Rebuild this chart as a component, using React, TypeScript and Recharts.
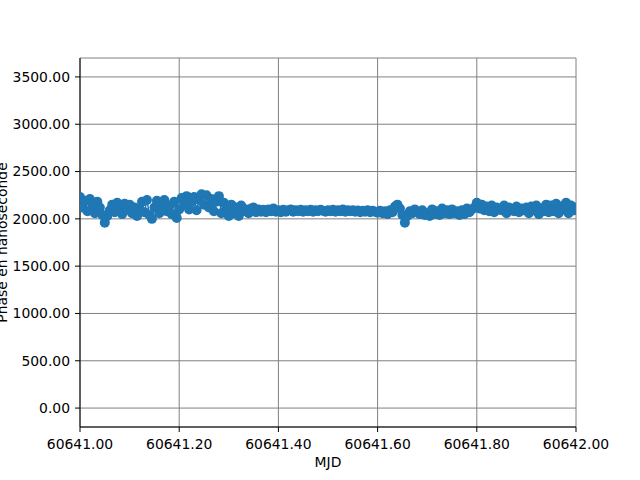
import React from 'react';
import { LineChart, Line, XAxis, YAxis, CartesianGrid } from 'recharts';

// MJD sampling of the series (start of the day, interval in days)
const MJD_START = 60641;
const MJD_STEP = 0.005;

// phase values in nanoseconds
const phaseNs = [
  2230, 2120, 2190, 2080, 2210, 2150, 2060, 2180, 2120, 2040,
  1960, 2030, 2090, 2150, 2070, 2170, 2110, 2050, 2160, 2100,
  2150, 2060, 2120, 2030, 2100, 2180, 2070, 2200, 2040, 2000,
  2120, 2190, 2060, 2150, 2200, 2080, 2140, 2050, 2180, 2010,
  2100, 2220, 2150, 2240, 2100, 2180, 2230, 2090, 2200, 2260,
  2150, 2250, 2120, 2210, 2080, 2180, 2240, 2060, 2170, 2110,
  2030, 2150, 2060, 2120, 2030, 2140, 2080, 2100, 2060, 2110,
  2120, 2070, 2100, 2075, 2095, 2070, 2100, 2080, 2110, 2075,
  2090, 2070, 2095, 2075, 2090, 2100, 2075, 2090, 2080, 2095,
  2075, 2090, 2080, 2095, 2075, 2090, 2080, 2095, 2085, 2075,
  2090, 2080, 2095, 2075, 2090, 2080, 2098, 2075, 2090, 2080,
  2090, 2075, 2088, 2070, 2085, 2075, 2090, 2070, 2085, 2075,
  2065, 2085, 2060, 2080, 2050, 2090, 2070, 2130, 2150, 2110,
  2040, 1960, 2030, 2080, 2060, 2100, 2070, 2050, 2090, 2040,
  2060, 2030, 2100, 2050, 2080, 2040, 2110, 2060, 2090, 2050,
  2100, 2060, 2080, 2040, 2090, 2050, 2110, 2070, 2100, 2120,
  2170, 2110, 2150, 2090, 2130, 2080, 2140, 2070, 2120, 2100,
  2090, 2140, 2060, 2120, 2100, 2080, 2130, 2070, 2110, 2090,
  2120, 2060, 2130, 2090, 2140, 2050, 2110, 2080, 2150, 2070,
  2140, 2080, 2160, 2060, 2130, 2100, 2170, 2060, 2140, 2090,
  2120,
];

const xTicks = [60641, 60641.2, 60641.4, 60641.6, 60641.8, 60642];
const yTicks = [0, 500, 1000, 1500, 2000, 2500, 3000, 3500];

const data = phaseNs.map((v, i) => ({ mjd: MJD_START + i * MJD_STEP, phase: v }));

const FONT = 'DejaVu Sans';
const tickStyle = { fill: '#000', fontSize: 13.9, fontFamily: FONT };
const Y_DOMAIN: [number, number] = [-200, 3700];

const App: React.FC = () => {
  return (
    <div style={{ position: 'absolute', left: 0, top: 0, width: 640, height: 480, background: '#fff' }}>
      <LineChart width={640} height={480} data={data} margin={{ top: 58, right: 64, bottom: 0, left: 0 }}>
        <CartesianGrid stroke="#808080" strokeWidth={1} />
        <XAxis
          dataKey="mjd"
          type="number"
          domain={[60641, 60642]}
          ticks={xTicks}
          allowDataOverflow
          tickFormatter={(v: number) => v.toFixed(2)}
          height={53}
          tickSize={5}
          tickMargin={7}
          tick={tickStyle}
          stroke="#000"
          label={{
            content: (props: any) => {
              const vb = props.viewBox;
              return (
                <text x={vb.x + vb.width / 2} y={467} textAnchor="middle" fontSize={13.9} fontFamily={FONT} fill="#000">
                  MJD
                </text>
              );
            },
          }}
        />
        <XAxis xAxisId="top" orientation="top" dataKey="mjd" type="number" domain={[60641, 60642]} height={0} tick={false} tickLine={false} stroke="#000" />
        <YAxis
          type="number"
          domain={Y_DOMAIN}
          ticks={yTicks}
          allowDataOverflow
          tickFormatter={(v: number) => v.toFixed(2)}
          width={80}
          tickSize={5}
          tickMargin={5}
          tick={tickStyle}
          stroke="#000"
          label={{
            content: (props: any) => {
              const vb = props.viewBox;
              const cy = vb.y + vb.height / 2;
              return (
                <text x={7} y={cy} transform={`rotate(-90, 7, ${cy})`} textAnchor="middle" fontSize={13.9} fontFamily={FONT} fill="#000">
                  Phase en nanoseconde
                </text>
              );
            },
          }}
        />
        <YAxis yAxisId="right" orientation="right" type="number" domain={Y_DOMAIN} width={0} tick={false} tickLine={false} stroke="#000" />
        <Line
          dataKey="phase"
          type="linear"
          stroke="#1f77b4"
          strokeWidth={1.5}
          dot={{ r: 5, fill: '#1f77b4', stroke: '#1f77b4', strokeWidth: 0 }}
          isAnimationActive={false}
        />
      </LineChart>
    </div>
  );
};

export default App;
